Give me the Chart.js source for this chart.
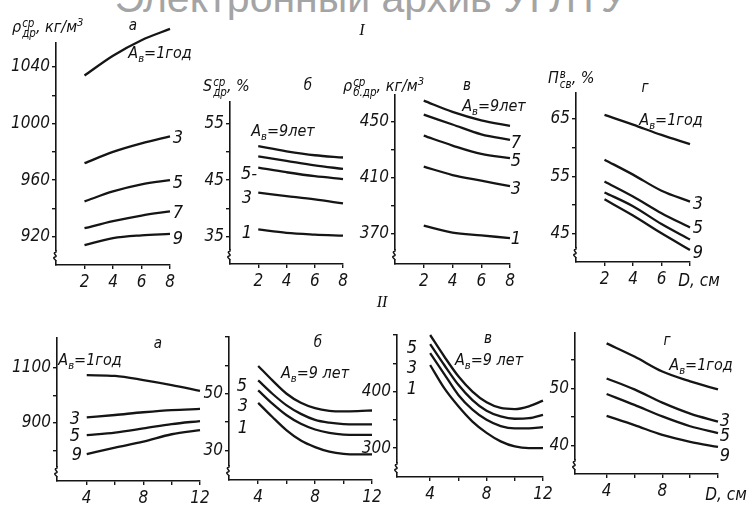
<!DOCTYPE html>
<html>
<head>
<meta charset="utf-8">
<script src="https://cdn.jsdelivr.net/npm/chart.js@4.4.1/dist/chart.umd.min.js"></script>
<style>
  html, body { margin: 0; padding: 0; background: #fff; }
  #fig { position: relative; width: 747px; height: 505px; overflow: hidden; background: #fff; }
  #fig canvas { position: absolute; left: 0; top: 0; }
  .t { position: absolute; font-family: 'Liberation Sans Narrow', 'DejaVu Sans Condensed', 'Liberation Sans', sans-serif;
       font-style: italic; color: #111; white-space: nowrap; line-height: 1; transform: translate(-50%, -50%); }
  .n { font-size: 18px; }
  .p { font-size: 15px; }
  .a { font-size: 16px; }
  .d { font-size: 17px; }
  .ttl { font-size: 16px; transform: none; }
  .ss { display: inline-flex; flex-direction: column; font-size: 0.72em; line-height: 0.85; vertical-align: 0.42em; margin-left: 1px; }
  .sub { font-size: 0.7em; vertical-align: -0.35em; }
  .sup { font-size: 0.7em; vertical-align: 0.55em; }
  .wm { position: absolute; left: 371px; top: -22px; transform: translateX(-50%); font-family: 'Liberation Sans', Arial, sans-serif;
        font-size: 41px; color: #a4a4a4; white-space: nowrap; line-height: 1; }
  .rn { position: absolute; font-family: 'Liberation Serif', serif; font-style: italic; font-size: 16px; color: #111; transform: translate(-50%, -50%); }
</style>
</head>
<body>
<div id="fig">
  <div class="wm">Электронный архив УГЛТУ</div>
  <canvas id="cIa" width="747" height="505"></canvas>
  <canvas id="cIb" width="747" height="505"></canvas>
  <canvas id="cIv" width="747" height="505"></canvas>
  <canvas id="cIg" width="747" height="505"></canvas>
  <canvas id="cIIa" width="747" height="505"></canvas>
  <canvas id="cIIb" width="747" height="505"></canvas>
  <canvas id="cIIv" width="747" height="505"></canvas>
  <canvas id="cIIg" width="747" height="505"></canvas>

  <div class="rn" style="left:362px;top:30px">I</div>
  <div class="rn" style="left:382px;top:302px">II</div>

  <!-- I-а -->
  <div class="t ttl" style="left:12px;top:17px">ρ<span class="ss"><span>ср</span><span>др</span></span>, кг/м<span class="sup">3</span></div>
  <div class="t p" style="left:133px;top:25px">а</div>
  <div class="t a" style="left:160px;top:55px">A<span class="sub">в</span>=1год</div>
  <div class="t n" style="left:178px;top:137px">3</div>
  <div class="t n" style="left:178px;top:182px">5</div>
  <div class="t n" style="left:178px;top:212px">7</div>
  <div class="t n" style="left:178px;top:238px">9</div>

  <!-- I-б -->
  <div class="t ttl" style="left:203px;top:78px">S<span class="ss"><span>ср</span><span>др</span></span>, %</div>
  <div class="t p" style="left:308px;top:85px">б</div>
  <div class="t a" style="left:283px;top:133px">A<span class="sub">в</span>=9лет</div>
  <div class="t n" style="left:249px;top:173px">5-</div>
  <div class="t n" style="left:247px;top:197px">3</div>
  <div class="t n" style="left:247px;top:232px">1</div>

  <!-- I-в -->
  <div class="t ttl" style="left:343px;top:76px">ρ<span class="ss"><span>ср</span><span>б.др</span></span>, кг/м<span class="sup">3</span></div>
  <div class="t p" style="left:467px;top:85px">в</div>
  <div class="t a" style="left:494px;top:108px">A<span class="sub">в</span>=9лет</div>
  <div class="t n" style="left:516px;top:142px">7</div>
  <div class="t n" style="left:516px;top:160px">5</div>
  <div class="t n" style="left:516px;top:188px">3</div>
  <div class="t n" style="left:516px;top:238px">1</div>

  <!-- I-г -->
  <div class="t ttl" style="left:548px;top:70px">П<span class="ss"><span>в</span><span>св</span></span>, %</div>
  <div class="t p" style="left:645px;top:87px">г</div>
  <div class="t a" style="left:671px;top:122px">A<span class="sub">в</span>=1год</div>
  <div class="t n" style="left:698px;top:203px">3</div>
  <div class="t n" style="left:698px;top:227px">5</div>
  <div class="t n" style="left:698px;top:252px">9</div>
  <div class="t d" style="left:699px;top:280px">D, см</div>

  <!-- II-а -->
  <div class="t p" style="left:158px;top:343px">а</div>
  <div class="t a" style="left:90px;top:362px">A<span class="sub">в</span>=1год</div>
  <div class="t n" style="left:75px;top:418px">3</div>
  <div class="t n" style="left:75px;top:435px">5</div>
  <div class="t n" style="left:77px;top:454px">9</div>

  <!-- II-б -->
  <div class="t p" style="left:318px;top:342px">б</div>
  <div class="t a" style="left:315px;top:375px">A<span class="sub">в</span>=9 лет</div>
  <div class="t n" style="left:242px;top:385px">5</div>
  <div class="t n" style="left:243px;top:405px">3</div>
  <div class="t n" style="left:243px;top:427px">1</div>

  <!-- II-в -->
  <div class="t p" style="left:488px;top:338px">в</div>
  <div class="t a" style="left:489px;top:362px">A<span class="sub">в</span>=9 лет</div>
  <div class="t n" style="left:412px;top:347px">5</div>
  <div class="t n" style="left:412px;top:367px">3</div>
  <div class="t n" style="left:412px;top:388px">1</div>

  <!-- II-г -->
  <div class="t p" style="left:667px;top:340px">г</div>
  <div class="t a" style="left:701px;top:367px">A<span class="sub">в</span>=1год</div>
  <div class="t n" style="left:725px;top:420px">3</div>
  <div class="t n" style="left:725px;top:435px">5</div>
  <div class="t n" style="left:725px;top:455px">9</div>
  <div class="t d" style="left:726px;top:494px">D, см</div>
</div>

<script>
// Diameter values, cm
const dTop = [2, 4, 6, 8];
const dBot = [4, 6, 8, 10, 12];
const dBotFine = [4, 5, 6, 7, 8, 9, 10, 11, 12];

// I-а: average density of wood, kg/m3, by age A (years)
const Ia_A1 = [1034, 1048, 1059, 1067];
const Ia_A3 = [972, 980, 986, 991];
const Ia_A5 = [945, 952, 957, 960];
const Ia_A7 = [926, 931, 935, 938];
const Ia_A9 = [914, 919, 921, 922];

// I-б: dry matter share, %
const Ib_A9 = [51.0, 50.1, 49.4, 49.0];
const Ib_A7 = [49.2, 48.4, 47.6, 47.0];
const Ib_A5 = [47.2, 46.4, 45.7, 45.2];
const Ib_A3 = [42.8, 42.2, 41.6, 40.9];
const Ib_A1 = [36.3, 35.7, 35.4, 35.2];

// I-в: basic density, kg/m3
const Iv_A9 = [465, 457, 451, 447];
const Iv_A7 = [455, 448, 441, 437];
const Iv_A5 = [440, 433, 427, 424];
const Iv_A3 = [418, 412, 408, 404];
const Iv_A1 = [376, 371, 369, 367];

// I-г: free water porosity, %
const Ig_A1 = [65.7, 64.0, 62.2, 60.6];
const Ig_A3 = [57.9, 55.3, 52.5, 50.6];
const Ig_A5 = [54.1, 51.5, 48.6, 46.1];
const Ig_A7 = [52.2, 49.8, 46.7, 44.0];
const Ig_A9 = [51.0, 48.2, 45.1, 42.2];

// II-а
const IIa_A1 = [1073, 1070, 1055, 1037, 1016];
const IIa_A3 = [919, 928, 938, 946, 950];
const IIa_A5 = [855, 864, 879, 895, 906];
const IIa_A9 = [786, 809, 831, 858, 873];

// II-б
const IIb_A9 = [59.8, 54.7, 50.0, 46.8, 44.9, 44.0, 43.8, 43.9, 44.1];
const IIb_A5 = [54.7, 50.0, 45.9, 42.9, 40.8, 39.8, 39.3, 39.2, 39.2];
const IIb_A3 = [51.2, 46.5, 42.4, 39.4, 37.4, 36.2, 35.6, 35.5, 35.5];
const IIb_A1 = [46.8, 41.8, 37.1, 33.5, 31.2, 29.6, 28.8, 28.6, 28.6];

// II-в
const IIv_A9 = [500, 462, 427, 400, 381, 371, 369, 374, 384];
const IIv_A5 = [484, 447, 412, 385, 366, 356, 352, 353, 359];
const IIv_A3 = [468, 431, 394, 368, 350, 339, 335, 335, 337];
const IIv_A1 = [447, 406, 374, 347, 327, 312, 303, 300, 300];

// II-г
const IIg_A1 = [57.8, 55.5, 52.9, 51.2, 49.8];
const IIg_A3 = [51.7, 49.8, 47.5, 45.6, 44.2];
const IIg_A5 = [49.0, 47.1, 45.1, 43.4, 42.2];
const IIg_A9 = [45.2, 43.6, 41.9, 40.7, 39.8];

// Tick positions and their labels ('' = unlabeled tick)
const xTopTicks = [2, 4, 6, 8];
const xTopLabels = ['2', '4', '6', '8'];
const xTopLabelsD = ['2', '4', '6', ''];
const xBotTicks = [4, 6, 8, 10, 12];
const xBotLabels = ['4', '', '8', '', '12'];
const xBotLabelsD = ['4', '', '8', '', ''];

const Ia_yTicks = [920, 940, 960, 980, 1000, 1020, 1040];
const Ia_yLabels = ['920', '', '960', '', '1000', '', '1040'];
const Ib_yTicks = [35, 40, 45, 50, 55];
const Ib_yLabels = ['35', '', '45', '', '55'];
const Iv_yTicks = [370, 390, 410, 430, 450];
const Iv_yLabels = ['370', '', '410', '', '450'];
const Ig_yTicks = [45, 50, 55, 60, 65];
const Ig_yLabels = ['45', '', '55', '', '65'];
const IIa_yTicks = [800, 900, 1000, 1100];
const IIa_yLabels = ['', '900', '', '1100'];
const IIb_yTicks = [30, 40, 50, 60, 70];
const IIb_yLabels = ['30', '', '50', '', ''];
const IIv_yTicks = [300, 350, 400, 450, 500];
const IIv_yLabels = ['300', '', '400', '', ''];
const IIg_yTicks = [40, 45, 50, 55];
const IIg_yLabels = ['40', '', '50', ''];

const W = 747, H = 505, AXY = 54, AXX = 28;
const INK = '#151515';
const FONT = "'Liberation Sans Narrow', 'DejaVu Sans Condensed', 'Liberation Sans', sans-serif";

// Small zigzag break near the foot of each value axis
const axisBreak = {
  id: 'axisBreak',
  afterDraw(chart) {
    const { ctx, chartArea: a } = chart;
    const x = a.left, b = a.bottom;
    ctx.save();
    ctx.fillStyle = '#fff';
    ctx.fillRect(x - 2, b - 14, 4, 9);
    ctx.strokeStyle = INK;
    ctx.lineWidth = 1.5;
    ctx.beginPath();
    ctx.moveTo(x, b - 15);
    ctx.lineTo(x, b - 13);
    ctx.bezierCurveTo(x - 5, b - 12, x + 3, b - 9, x - 1, b - 8);
    ctx.bezierCurveTo(x - 4, b - 7, x - 1, b - 6, x, b - 4);
    ctx.stroke();
    ctx.restore();
  }
};

function axis(min, max, ticks, labels, isX) {
  return {
    type: 'linear',
    min, max,
    afterFit(s) { if (isX) s.height = AXX; else s.width = AXY; },
    afterBuildTicks(s) { s.ticks = ticks.map(v => ({ value: v })); },
    ticks: {
      autoSkip: false, maxRotation: 0, minRotation: 0,
      padding: isX ? 3 : 2,
      color: INK,
      font: { family: FONT, size: 17, style: 'italic' },
      callback: (v, i) => labels[i]
    },
    grid: { drawOnChartArea: false, drawTicks: true, tickLength: 4, color: INK, lineWidth: 1.4 },
    border: { display: true, color: INK, width: 1.6 }
  };
}

function panel(id, box, xs, ys, xr, yr, series) {
  new Chart(document.getElementById(id), {
    type: 'line',
    data: {
      datasets: series.map(s => ({
        data: s[0].map((x, i) => ({ x, y: s[1][i] })),
        borderColor: INK,
        borderWidth: 2.3,
        pointRadius: 0,
        fill: false,
        cubicInterpolationMode: 'monotone',
        clip: false
      }))
    },
    options: {
      responsive: false,
      animation: false,
      events: [],
      layout: { padding: { left: box[0] - AXY, top: box[1], right: W - box[2], bottom: H - box[3] - AXX } },
      plugins: { legend: { display: false }, tooltip: { enabled: false } },
      scales: {
        x: axis(xr[0], xr[1], xs[0], xs[1], true),
        y: axis(yr[0], yr[1], ys[0], ys[1], false)
      }
    },
    plugins: [axisBreak]
  });
}

// Row I: panels а–г
panel('cIa', [56, 43, 170, 265], [xTopTicks, xTopLabels], [Ia_yTicks, Ia_yLabels], [0, 8], [900, 1057],
  [[dTop, Ia_A1], [dTop, Ia_A3], [dTop, Ia_A5], [dTop, Ia_A7], [dTop, Ia_A9]]);
panel('cIb', [230, 102, 343, 264], [xTopTicks, xTopLabels], [Ib_yTicks, Ib_yLabels], [0, 8], [30.2, 58.8],
  [[dTop, Ib_A9], [dTop, Ib_A7], [dTop, Ib_A5], [dTop, Ib_A3], [dTop, Ib_A1]]);
panel('cIv', [395, 95, 510, 264], [xTopTicks, xTopLabels], [Iv_yTicks, Iv_yLabels], [0, 8], [348.6, 469],
  [[dTop, Iv_A9], [dTop, Iv_A7], [dTop, Iv_A5], [dTop, Iv_A3], [dTop, Iv_A1]]);
panel('cIg', [576, 93, 690, 262], [xTopTicks, xTopLabelsD], [Ig_yTicks, Ig_yLabels], [0, 8], [40.1, 69.5],
  [[dTop, Ig_A1], [dTop, Ig_A3], [dTop, Ig_A5], [dTop, Ig_A7], [dTop, Ig_A9]]);

// Row II: panels а–г
panel('cIIa', [57, 338, 200, 481], [xBotTicks, xBotLabels], [IIa_yTicks, IIa_yLabels], [1.9, 12], [688, 1208],
  [[dBot, IIa_A1], [dBot, IIa_A3], [dBot, IIa_A5], [dBot, IIa_A9]]);
panel('cIIb', [229, 337, 372, 480], [xBotTicks, xBotLabels], [IIb_yTicks, IIb_yLabels], [1.95, 12], [19.6, 70],
  [[dBotFine, IIb_A9], [dBotFine, IIb_A5], [dBotFine, IIb_A3], [dBotFine, IIb_A1]]);
panel('cIIv', [397, 335, 543, 477], [xBotTicks, xBotLabels], [IIv_yTicks, IIv_yLabels], [1.65, 12], [249, 500],
  [[dBotFine, IIv_A9], [dBotFine, IIv_A5], [dBotFine, IIv_A3], [dBotFine, IIv_A1]]);
panel('cIIg', [575, 333, 718, 474], [xBotTicks, xBotLabelsD], [IIg_yTicks, IIg_yLabels], [1.73, 12], [35.1, 59.6],
  [[dBot, IIg_A1], [dBot, IIg_A3], [dBot, IIg_A5], [dBot, IIg_A9]]);
</script>
</body>
</html>
